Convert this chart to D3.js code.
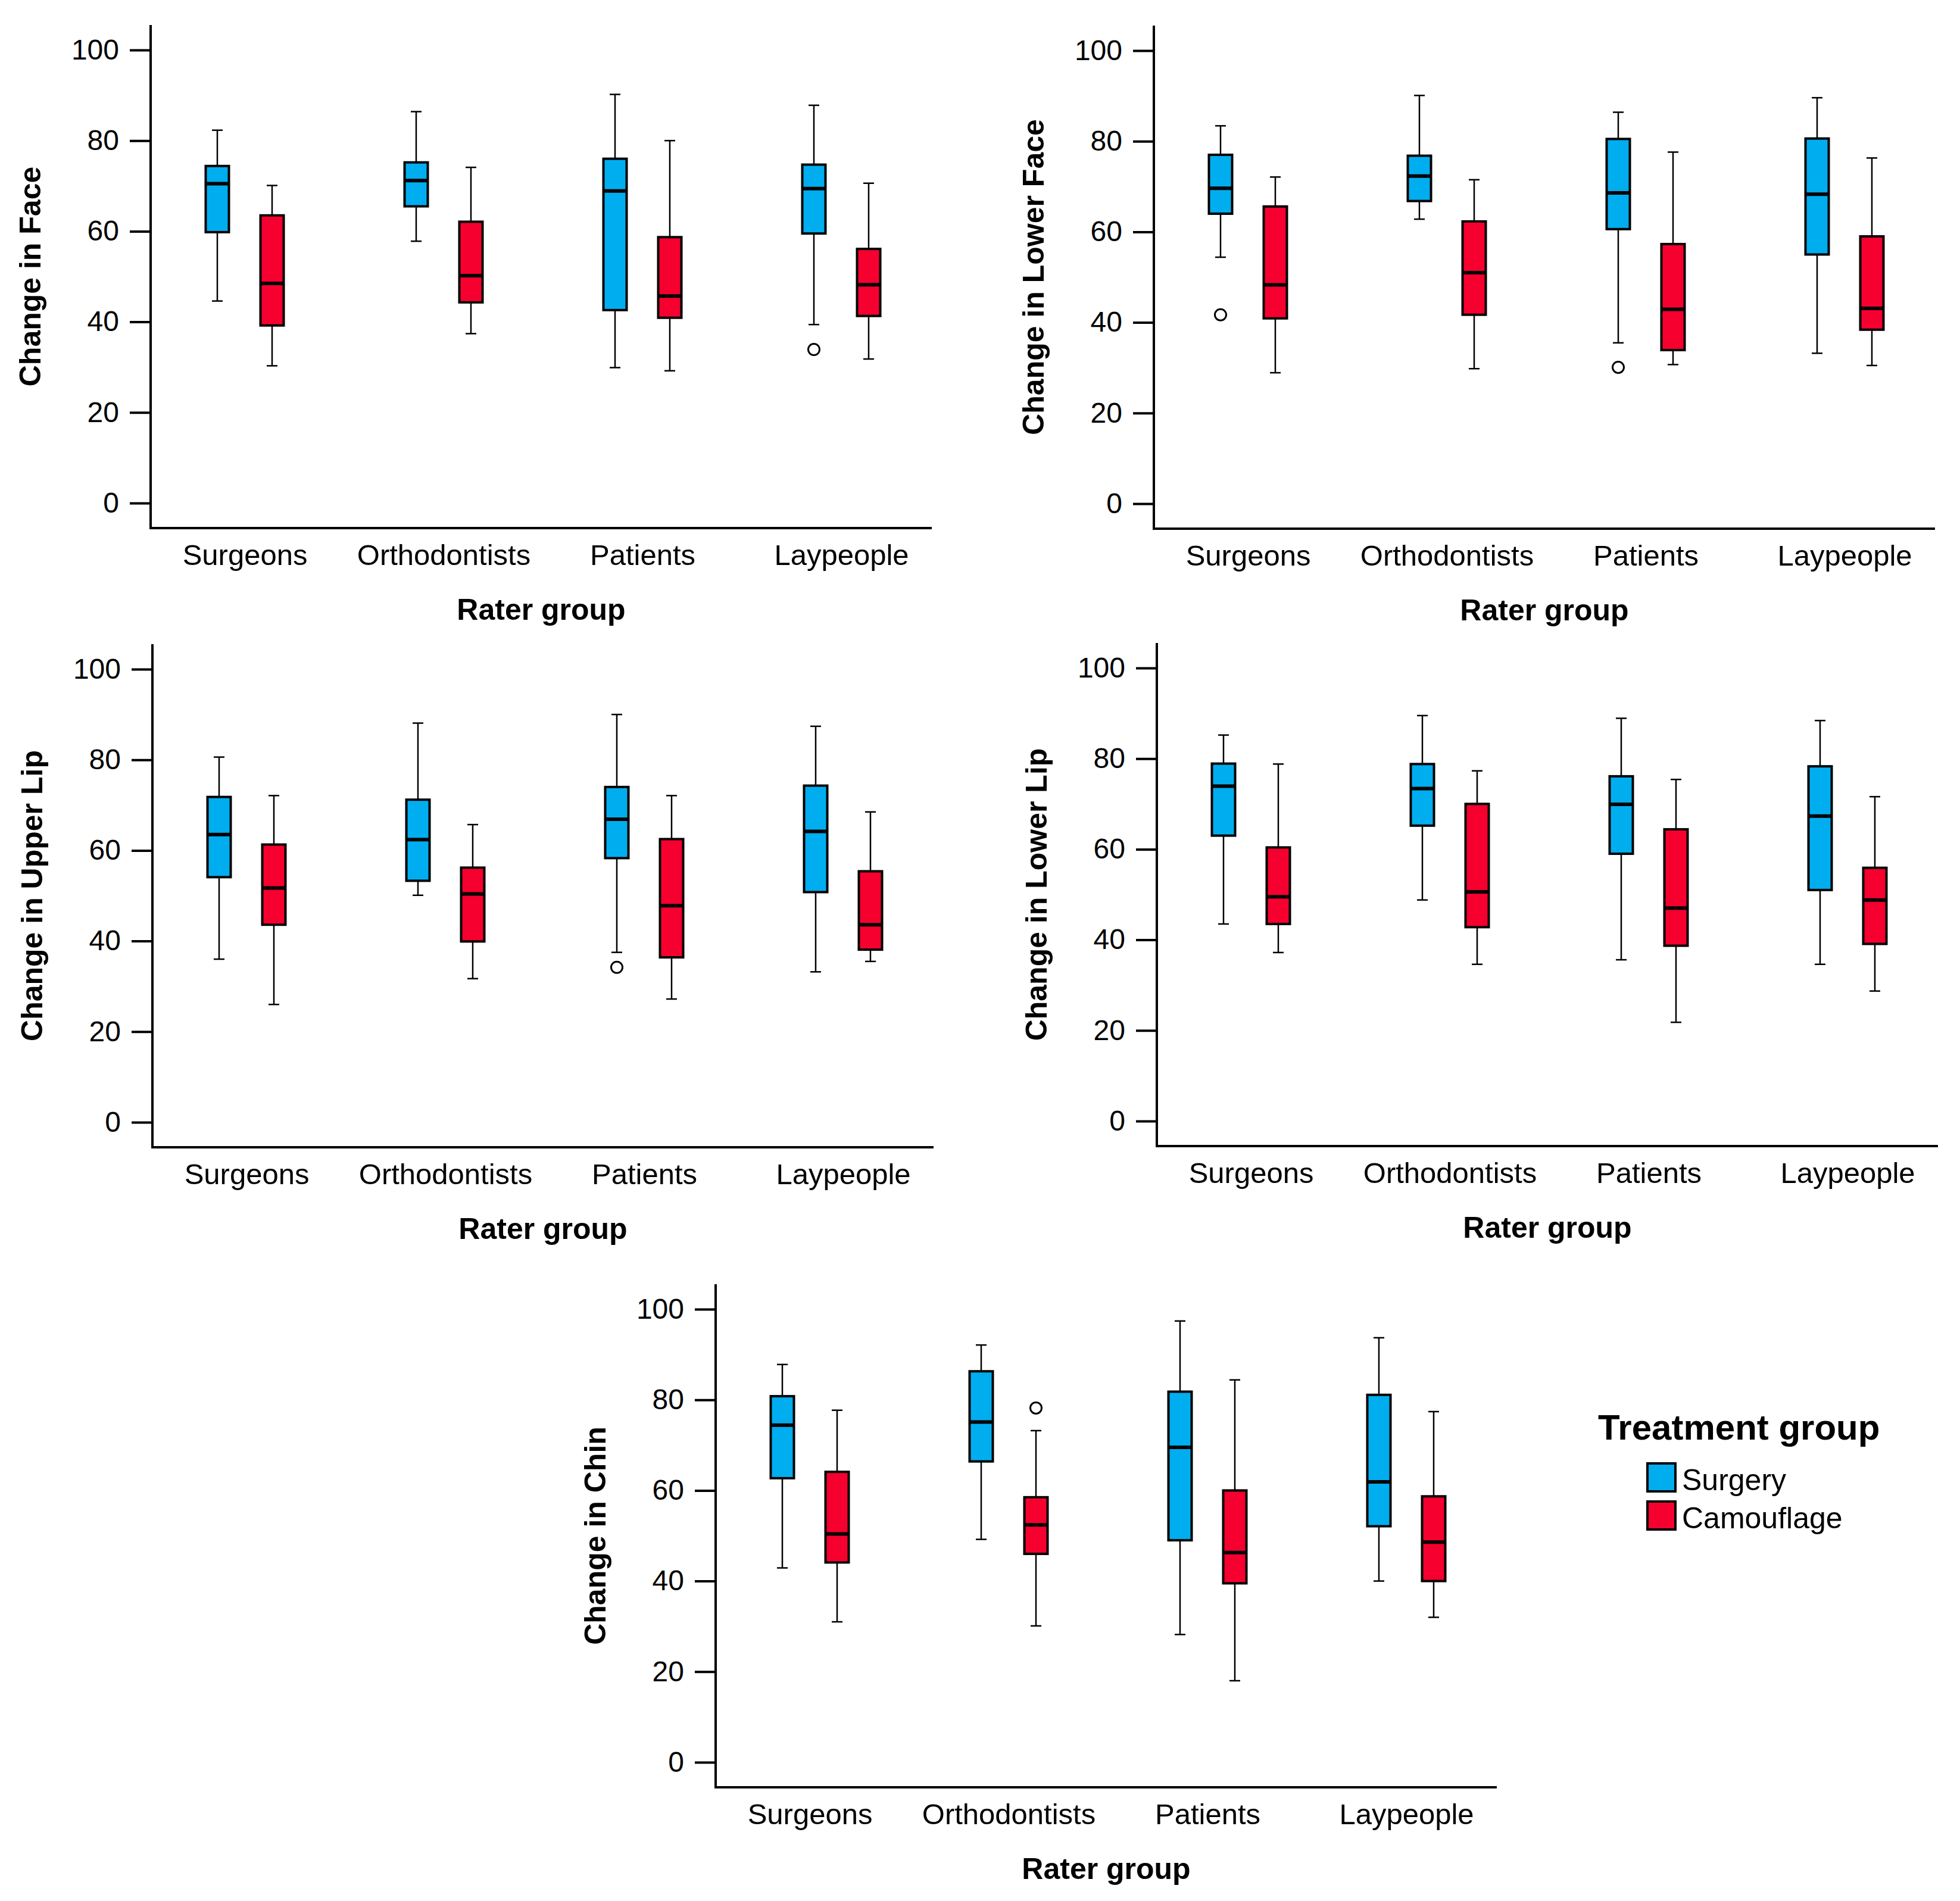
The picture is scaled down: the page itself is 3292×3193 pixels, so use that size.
<!DOCTYPE html>
<html>
<head>
<meta charset="utf-8">
<script src="https://cdn.jsdelivr.net/npm/d3@7"></script>
<style>
  html, body { margin: 0; padding: 0; background: #ffffff; }
  svg { display: block; }
  text { font-family: "Liberation Sans", Arial, "DejaVu Sans", sans-serif; fill: #000; }
</style>
</head>
<body>
<script>
// ---------- DATA ----------
const categories = ["Surgeons", "Orthodontists", "Patients", "Laypeople"];
const seriesNames = ["Surgery", "Camouflage"];
const seriesColors = ["#00AEEF", "#F5002F"];
const yTicks = [0, 20, 40, 60, 80, 100];
const panelTitles = ["Change in Face", "Change in Lower Face", "Change in Upper Lip", "Change in Lower Lip", "Change in Chin"];
const xTitle = "Rater group";
const legendTitle = "Treatment group";

// each row: [lower whisker, Q1, median, Q3, upper whisker] per category
const faceSurgery = [[44.6, 59.8, 70.5, 74.4, 82.3], [57.8, 65.5, 71.2, 75.2, 86.4], [29.9, 42.6, 68.9, 76.0, 90.2], [39.4, 59.5, 69.4, 74.7, 87.8]];
const faceCamouflage = [[30.3, 39.2, 48.5, 63.5, 70.1], [37.4, 44.3, 50.2, 62.1, 74.1], [29.2, 40.9, 45.7, 58.7, 80.0], [31.8, 41.3, 48.2, 56.1, 70.6]];
const faceOutliers = [["Laypeople", "Surgery", 33.9]];

const lowerFaceSurgery = [[54.4, 64.0, 69.6, 77.0, 83.4], [62.8, 66.8, 72.3, 76.8, 90.1], [35.5, 60.6, 68.6, 80.5, 86.4], [33.2, 55.0, 68.3, 80.6, 89.6]];
const lowerFaceCamouflage = [[28.9, 40.9, 48.3, 65.6, 72.1], [29.8, 41.7, 51.0, 62.3, 71.5], [30.7, 33.9, 42.9, 57.3, 77.6], [30.5, 38.4, 43.1, 59.0, 76.3]];
const lowerFaceOutliers = [["Surgeons", "Surgery", 41.7], ["Patients", "Surgery", 30.1]];

const upperLipSurgery = [[36.0, 54.1, 63.5, 71.8, 80.6], [50.1, 53.3, 62.4, 71.2, 88.1], [37.5, 58.3, 66.9, 74.0, 90.0], [33.2, 50.8, 64.2, 74.3, 87.4]];
const upperLipCamouflage = [[26.0, 43.6, 51.7, 61.3, 72.1], [31.7, 39.9, 50.4, 56.2, 65.7], [27.2, 36.4, 47.8, 62.5, 72.1], [35.5, 38.1, 43.6, 55.4, 68.5]];
const upperLipOutliers = [["Patients", "Surgery", 34.2]];

const lowerLipSurgery = [[43.5, 63.0, 73.9, 78.9, 85.2], [48.8, 65.2, 73.4, 78.8, 89.5], [35.6, 59.0, 69.9, 76.1, 88.9], [34.6, 51.0, 67.3, 78.3, 88.4]];
const lowerLipCamouflage = [[37.2, 43.5, 49.5, 60.4, 78.8], [34.6, 42.8, 50.6, 70.0, 77.3], [21.8, 38.7, 47.0, 64.4, 75.4], [28.7, 39.1, 48.8, 55.9, 71.6]];
const lowerLipOutliers = [];

const chinSurgery = [[42.9, 62.7, 74.4, 80.8, 87.8], [49.2, 66.4, 75.1, 86.3, 92.1], [28.2, 49.0, 69.5, 81.8, 97.4], [40.0, 52.1, 61.9, 81.1, 93.7]];
const chinCamouflage = [[31.0, 44.1, 50.4, 64.1, 77.7], [30.1, 46.0, 52.4, 58.5, 73.2], [18.0, 39.5, 46.3, 60.0, 84.4], [32.0, 40.0, 48.6, 58.7, 77.4]];
const chinOutliers = [["Orthodontists", "Camouflage", 78.2]];

// ---------- LAYOUT ----------
const W = 3292, H = 3193;
const panels = [
  { x0: 253,  y100: 84,   title: panelTitles[0], series: [faceSurgery, faceCamouflage], outliers: faceOutliers },
  { x0: 1938, y100: 85,   title: panelTitles[1], series: [lowerFaceSurgery, lowerFaceCamouflage], outliers: lowerFaceOutliers },
  { x0: 256,  y100: 1124, title: panelTitles[2], series: [upperLipSurgery, upperLipCamouflage], outliers: upperLipOutliers },
  { x0: 1943, y100: 1122, title: panelTitles[3], series: [lowerLipSurgery, lowerLipCamouflage], outliers: lowerLipOutliers },
  { x0: 1202, y100: 2199, title: panelTitles[4], series: [chinSurgery, chinCamouflage], outliers: chinOutliers }
];
const plotH = 761, axisW = 1312, pad = 42;
const firstOffset = 158, groupStep = 334, seriesHalf = 46, boxW = 39, capW = 18;

const svg = d3.select("body").append("svg").attr("width", W).attr("height", H)
  .attr("viewBox", `0 0 ${W} ${H}`);

panels.forEach(p => {
  const yZero = p.y100 + plotH;
  const yTop = p.y100 - pad;
  const yAxis = yZero + pad;
  const xEnd = p.x0 + axisW;

  const y = d3.scaleLinear().domain([0, 100]).range([yZero, p.y100]);
  const x = d3.scalePoint().domain(categories).range([p.x0 + firstOffset, p.x0 + firstOffset + 3 * groupStep]);
  const xs = d3.scalePoint().domain(seriesNames).range([-seriesHalf, seriesHalf]);
  const color = d3.scaleOrdinal().domain(seriesNames).range(seriesColors);

  const g = svg.append("g");

  // y axis ticks + labels
  const yAxisG = g.append("g").attr("transform", `translate(${p.x0},0)`)
    .call(d3.axisLeft(y).tickValues(yTicks).tickFormat(d3.format("d")).tickSize(35).tickPadding(18).tickSizeOuter(0));
  yAxisG.select(".domain").remove();
  yAxisG.selectAll(".tick line").attr("stroke", "#000").attr("stroke-width", 4);
  yAxisG.selectAll(".tick text").style("font-size", "48px").style("font-family", "'Liberation Sans', Arial, sans-serif").attr("fill", "#000");

  // x axis labels
  const xAxisG = g.append("g").attr("transform", `translate(0,${yAxis})`)
    .call(d3.axisBottom(x).tickSize(0).tickPadding(27));
  xAxisG.select(".domain").remove();
  xAxisG.selectAll(".tick text").style("font-size", "49px").style("font-family", "'Liberation Sans', Arial, sans-serif").attr("fill", "#000");

  // axis lines
  g.append("line").attr("x1", p.x0).attr("x2", p.x0).attr("y1", yTop).attr("y2", yAxis + 2)
    .attr("stroke", "#000").attr("stroke-width", 4);
  g.append("line").attr("x1", p.x0 - 2).attr("x2", xEnd).attr("y1", yAxis).attr("y2", yAxis)
    .attr("stroke", "#000").attr("stroke-width", 4);

  // titles
  g.append("text")
    .attr("transform", `translate(${p.x0 - 185},${(yTop + yAxis) / 2}) rotate(-90)`)
    .attr("text-anchor", "middle").style("font-size", "50px").style("font-weight", "bold")
    .text(p.title);
  g.append("text")
    .attr("x", (p.x0 + xEnd) / 2).attr("y", yAxis + 154)
    .attr("text-anchor", "middle").style("font-size", "50px").style("font-weight", "bold")
    .text(xTitle);

  // boxes
  seriesNames.forEach((s, si) => {
    const rows = p.series[si];
    const bg = g.append("g");
    const items = bg.selectAll("g.box").data(rows.map((r, i) => ({ cat: categories[i], v: r })))
      .join("g").attr("class", "box")
      .attr("transform", d => `translate(${x(d.cat) + xs(s)},0)`);

    // whiskers
    items.append("line").attr("x1", 0).attr("x2", 0)
      .attr("y1", d => y(d.v[3])).attr("y2", d => y(d.v[4]))
      .attr("stroke", "#000").attr("stroke-width", 2.5);
    items.append("line").attr("x1", 0).attr("x2", 0)
      .attr("y1", d => y(d.v[1])).attr("y2", d => y(d.v[0]))
      .attr("stroke", "#000").attr("stroke-width", 2.5);
    items.append("line").attr("x1", -capW / 2).attr("x2", capW / 2)
      .attr("y1", d => y(d.v[4])).attr("y2", d => y(d.v[4]))
      .attr("stroke", "#000").attr("stroke-width", 2.5);
    items.append("line").attr("x1", -capW / 2).attr("x2", capW / 2)
      .attr("y1", d => y(d.v[0])).attr("y2", d => y(d.v[0]))
      .attr("stroke", "#000").attr("stroke-width", 2.5);
    // box
    items.append("rect").attr("x", -boxW / 2).attr("width", boxW)
      .attr("y", d => y(d.v[3])).attr("height", d => y(d.v[1]) - y(d.v[3]))
      .attr("fill", color(s)).attr("stroke", "#000").attr("stroke-width", 4);
    // median
    items.append("line").attr("x1", -boxW / 2).attr("x2", boxW / 2)
      .attr("y1", d => y(d.v[2])).attr("y2", d => y(d.v[2]))
      .attr("stroke", "#000").attr("stroke-width", 6);
  });

  // outliers
  g.selectAll("circle.out").data(p.outliers).join("circle").attr("class", "out")
    .attr("cx", d => x(d[0]) + xs(d[1])).attr("cy", d => y(d[2])).attr("r", 9.5)
    .attr("fill", "#fff").attr("stroke", "#000").attr("stroke-width", 3);
});

// legend
const lg = svg.append("g");
lg.append("text").attr("x", 2684).attr("y", 2418)
  .style("font-size", "60px").style("font-weight", "bold").text(legendTitle);
const legendColor = d3.scaleOrdinal().domain(seriesNames).range(seriesColors);
const ly = d3.scalePoint().domain(seriesNames).range([2458, 2522]);
const li = lg.selectAll("g.li").data(seriesNames).join("g").attr("class", "li");
li.append("rect").attr("x", 2767).attr("y", d => ly(d)).attr("width", 47).attr("height", 47)
  .attr("fill", d => legendColor(d)).attr("stroke", "#000").attr("stroke-width", 4);
li.append("text").attr("x", 2825).attr("y", d => ly(d) + 45)
  .style("font-size", "50px").text(d => d);
</script>
</body>
</html>
